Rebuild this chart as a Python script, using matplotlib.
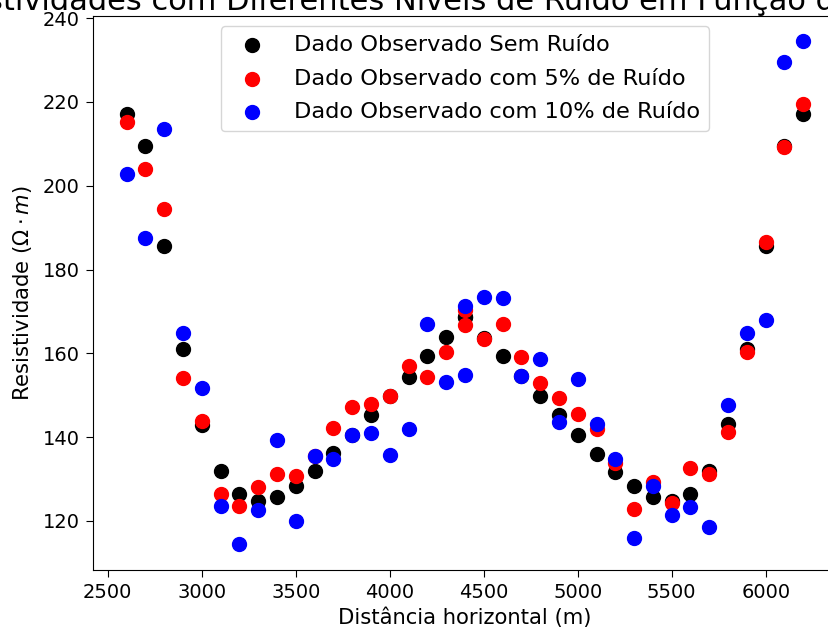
import matplotlib
matplotlib.use('Agg')
import matplotlib.pyplot as plt

# distancia horizontal (m) - 4400 aparece duas vezes (dois perfis)
dist = [2600, 2700, 2800, 2900, 3000, 3100, 3200, 3300, 3400, 3500,
        3600, 3700, 3800, 3900, 4000, 4100, 4200, 4300, 4400,
        4400, 4500, 4600, 4700, 4800, 4900, 5000, 5100, 5200, 5300,
        5400, 5500, 5600, 5700, 5800, 5900, 6000, 6100, 6200]

# resistividade sem ruido
rho_0 = [217.0, 209.5, 185.5, 161.1, 142.9, 131.9, 126.4, 124.8, 125.8, 128.4,
         131.8, 136.1, 140.5, 145.2, 149.8, 154.4, 159.3, 164.0, 168.7,
         168.7, 163.7, 159.3, 154.5, 149.8, 145.3, 140.5, 136.0, 131.7, 128.4,
         125.7, 124.8, 126.4, 132.0, 143.1, 161.0, 185.5, 209.5, 217.0]

# 5% de ruido
rho_5 = [215.2, 204.0, 194.5, 154.1, 143.8, 126.4, 123.5, 128.0, 131.1, 130.8,
         135.4, 142.2, 147.3, 148.0, 149.7, 157.0, 154.3, 160.3, 170.3,
         166.8, 163.3, 167.0, 159.1, 152.9, 149.4, 145.4, 141.9, 133.7, 122.8,
         129.4, 124.2, 132.6, 131.3, 141.2, 160.2, 186.5, 209.2, 219.5]

# 10% de ruido
rho_10 = [202.7, 187.5, 213.5, 164.9, 151.7, 123.6, 114.4, 122.7, 139.3, 120.0,
          135.5, 134.8, 140.5, 140.9, 135.8, 142.0, 167.0, 153.2, 171.2,
          154.8, 173.4, 173.1, 154.6, 158.7, 143.5, 153.8, 143.1, 134.7, 115.9,
          128.4, 121.4, 123.4, 118.5, 147.6, 164.9, 168.0, 229.5, 234.5]

plt.rcParams['font.size'] = 15.2
plt.rcParams['xtick.labelsize'] = 14
plt.rcParams['ytick.labelsize'] = 14
plt.rcParams['xtick.major.size'] = 4.8
plt.rcParams['ytick.major.size'] = 4.8
plt.rcParams['xtick.major.pad'] = 4.8
plt.rcParams['ytick.major.pad'] = 4.8

fig = plt.figure(figsize=(8.2801, 6.3301), dpi=100)
ax = fig.add_axes([0.112, 0.1003, 0.899, 0.8744])

ax.scatter(dist, rho_0, s=100, color='black', label='Dado Observado Sem Ruído')
ax.scatter(dist, rho_5, s=100, color='red', label='Dado Observado com 5% de Ruído')
ax.scatter(dist, rho_10, s=100, color='blue', label='Dado Observado com 10% de Ruído')
ax.set_xlim(2420, 6380)
ax.spines['right'].set_visible(False)

ax.set_title('Resistividades com Diferentes Níveis de Ruído em Função da Distância',
             fontsize=22, pad=4)
ax.set_xlabel('Distância horizontal (m)', labelpad=4)
ax.set_ylabel(r'Resistividade ($\Omega \cdot m$)', labelpad=6)
ax.legend(loc='upper center', fontsize=16.2, handletextpad=0.85,
          labelspacing=0.6, borderaxespad=0.45)

plt.savefig('out.png', dpi=100)
